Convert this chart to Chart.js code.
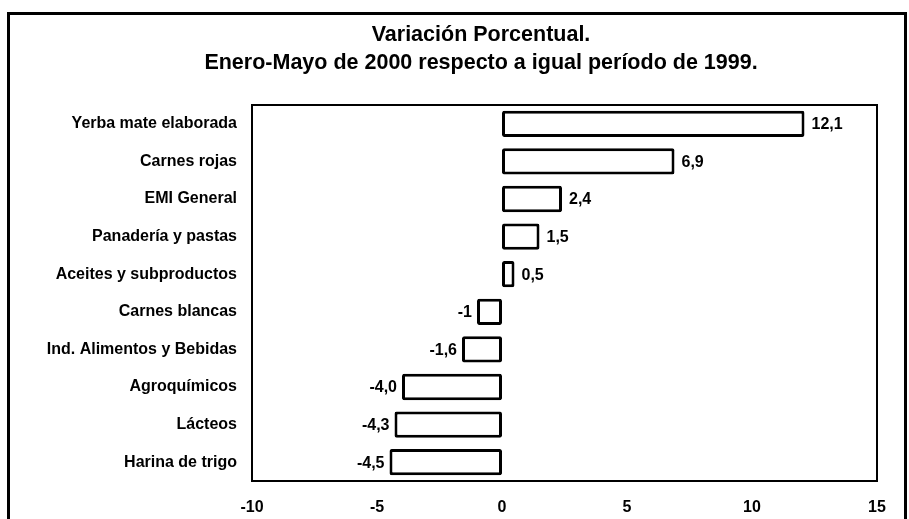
<!DOCTYPE html>
<html>
<head>
<meta charset="utf-8">
<script src="https://cdn.jsdelivr.net/npm/chart.js@4.4.0/dist/chart.umd.min.js"></script>
<style>
    html, body { margin: 0; padding: 0; background: #fff; }
    #wrap { position: relative; width: 909px; height: 519px; }
</style>
</head>
<body>
<div id="wrap"><canvas id="chart" width="909" height="519"></canvas></div>
<script>
// Chart data
const titleLines = ['Variación Porcentual.', 'Enero-Mayo de 2000 respecto a igual período de 1999.'];
const categories = [
    'Yerba mate elaborada',
    'Carnes rojas',
    'EMI General',
    'Panadería y pastas',
    'Aceites y subproductos',
    'Carnes blancas',
    'Ind. Alimentos y Bebidas',
    'Agroquímicos',
    'Lácteos',
    'Harina de trigo'
];
const values = [12.1, 6.9, 2.4, 1.5, 0.5, -1, -1.6, -4.0, -4.3, -4.5];
const valueLabels = ['12,1', '6,9', '2,4', '1,5', '0,5', '-1', '-1,6', '-4,0', '-4,3', '-4,5'];
const xMin = -10;
const xMax = 15;
const xStep = 5;

const FONT = '"Liberation Sans", Arial, sans-serif';

// Plugin: title (centred a bit right of the canvas middle), frames and value labels
const framePlugin = {
    id: 'framePlugin',
    afterDraw(chart) {
        const ctx = chart.ctx;
        const area = chart.chartArea;
        ctx.save();
        ctx.strokeStyle = '#000';
        ctx.fillStyle = '#000';

        // title
        ctx.font = 'bold 21.5px ' + FONT;
        ctx.textAlign = 'center';
        ctx.textBaseline = 'middle';
        titleLines.forEach((line, i) => {
            ctx.fillText(line, 481, 35 + i * 28);
        });

        // plot box
        ctx.lineWidth = 2;
        ctx.strokeRect(area.left, area.top, area.right - area.left, area.bottom - area.top);

        // outer frame
        ctx.lineWidth = 3;
        ctx.strokeRect(8.5, 13.5, 897, 530);

        // value labels
        ctx.font = 'bold 16px ' + FONT;
        const meta = chart.getDatasetMeta(0);
        meta.data.forEach((bar, i) => {
            if (values[i] >= 0) {
                ctx.textAlign = 'left';
                ctx.fillText(valueLabels[i], bar.x + 7, bar.y + 1);
            } else {
                ctx.textAlign = 'right';
                ctx.fillText(valueLabels[i], bar.x - 5, bar.y + 1);
            }
        });
        ctx.restore();
    }
};

const ctx = document.getElementById('chart').getContext('2d');
new Chart(ctx, {
    type: 'bar',
    data: {
        labels: categories,
        datasets: [{
            data: values,
            backgroundColor: '#fff',
            borderColor: '#000',
            borderWidth: 3,
            borderSkipped: false,
            borderRadius: 2,
            barPercentage: 0.7,
            categoryPercentage: 1.0
        }]
    },
    options: {
        indexAxis: 'y',
        responsive: false,
        animation: false,
        layout: { padding: { left: 0, right: 32, top: 105, bottom: 0 } },
        plugins: {
            legend: { display: false },
            tooltip: { enabled: false },
            title: { display: false }
        },
        scales: {
            x: {
                min: xMin,
                max: xMax,
                border: { display: false },
                grid: { display: false, drawTicks: false },
                ticks: {
                    stepSize: xStep,
                    color: '#000',
                    padding: 17,
                    font: { family: FONT, size: 16, weight: 'bold' }
                },
                afterFit(scale) { scale.height = 38; }
            },
            y: {
                border: { display: false },
                grid: { display: false, drawTicks: false },
                ticks: {
                    color: '#000',
                    padding: 15,
                    font: { family: FONT, size: 16, weight: 'bold' }
                },
                afterFit(scale) { scale.width = 252; }
            }
        }
    },
    plugins: [framePlugin]
});
</script>
</body>
</html>
